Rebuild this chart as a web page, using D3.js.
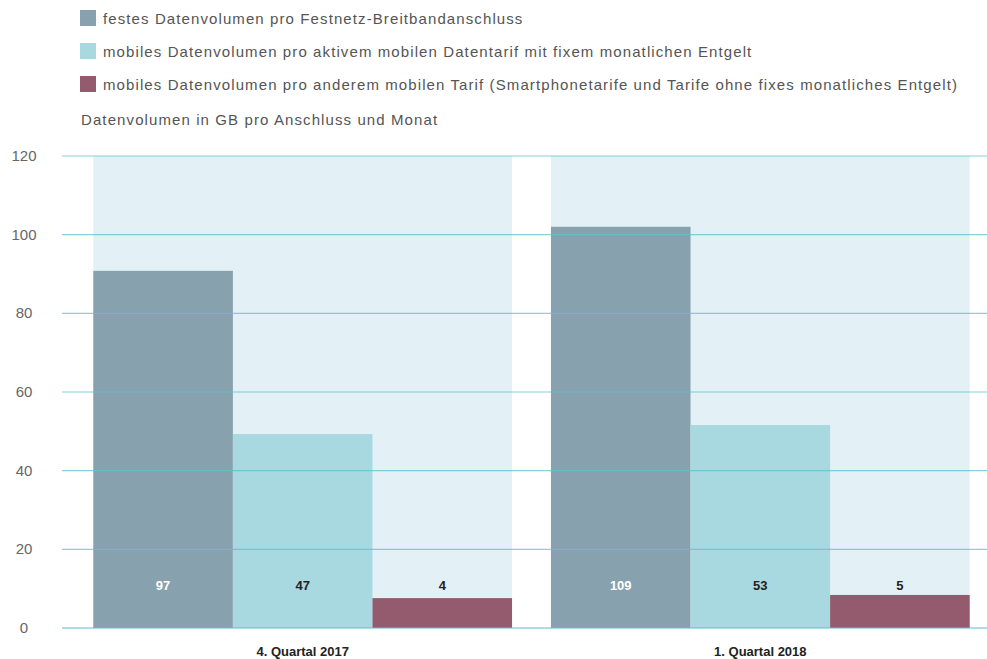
<!DOCTYPE html>
<html>
<head>
<meta charset="utf-8">
<script src="https://cdn.jsdelivr.net/npm/d3@7"></script>
<style>
  body { margin: 0; background: #fff; }
  svg { display: block; font-family: "Liberation Sans", Arial, sans-serif; }
</style>
</head>
<body>
<svg id="chart" width="987" height="659"></svg>
<script>
// data
const quarters = ["4. Quartal 2017", "1. Quartal 2018"];
const seriesNames = [
    "festes Datenvolumen pro Festnetz-Breitbandanschluss",
    "mobiles Datenvolumen pro aktivem mobilen Datentarif mit fixem monatlichen Entgelt",
    "mobiles Datenvolumen pro anderem mobilen Tarif (Smartphonetarife und Tarife ohne fixes monatliches Entgelt)"
];
// bar heights as drawn (the printed labels differ from the bar heights)
const barValues = [
    [90.8, 49.3, 7.6],
    [102, 51.6, 8.4]
];
const barLabels = [
    ["97", "47", "4"],
    ["109", "53", "5"]
];
const yTicks = [0, 20, 40, 60, 80, 100, 120];
const unitLabel = "Datenvolumen in GB pro Anschluss und Monat";

const colors = ["#87a2ae", "#a8d8e0", "#945a6e"];
const labelColors = ["#ffffff", "#222222", "#222222"];

const svg = d3.select("#chart");

const y = d3.scaleLinear().domain([0, 120]).range([628, 156]);
const x0 = d3.scaleBand().domain(quarters).range([75, 988]).paddingInner(0.085).paddingOuter(0.04);
const x1 = d3.scaleBand().domain(d3.range(seriesNames.length)).range([0, x0.bandwidth()]);

// legend
const legend = svg.append("g").selectAll("g")
    .data(seriesNames)
    .join("g")
    .attr("transform", (d, i) => `translate(80,${10 + i * 33})`);
legend.append("rect")
    .attr("width", 16).attr("height", 16)
    .attr("fill", (d, i) => colors[i]);
legend.append("text")
    .attr("x", 23).attr("y", 13.5)
    .attr("font-size", 15)
    .attr("letter-spacing", 1.1)
    .attr("fill", "#555")
    .text(d => d);

svg.append("text")
    .attr("x", 81).attr("y", 125)
    .attr("font-size", 15)
    .attr("letter-spacing", 1.1)
    .attr("fill", "#555")
    .text(unitLabel);

// group backgrounds
svg.append("g").selectAll("rect")
    .data(quarters)
    .join("rect")
    .attr("x", d => x0(d))
    .attr("width", x0.bandwidth())
    .attr("y", y(120))
    .attr("height", y(0) - y(120))
    .attr("fill", "#e3f0f5");

// bars
const groups = svg.append("g").selectAll("g")
    .data(quarters)
    .join("g")
    .attr("transform", d => `translate(${x0(d)},0)`);

groups.selectAll("rect")
    .data((d, gi) => barValues[gi].map((v, i) => ({v, i})))
    .join("rect")
    .attr("x", d => x1(d.i))
    .attr("width", x1.bandwidth())
    .attr("y", d => y(d.v))
    .attr("height", d => y(0) - y(d.v))
    .attr("fill", d => colors[d.i]);

// grid lines over the bars
svg.append("g").selectAll("line")
    .data(yTicks)
    .join("line")
    .attr("x1", 62).attr("x2", 987)
    .attr("y1", d => y(d)).attr("y2", d => y(d))
    .attr("stroke", d => d === 0 ? "#62bccb" : "#5fc0d0")
    .attr("stroke-opacity", d => d === 0 ? 1 : 0.75)
    .attr("stroke-width", 1.2);

// y tick labels
svg.append("g").selectAll("text")
    .data(yTicks)
    .join("text")
    .attr("x", 24)
    .attr("y", d => y(d) + 5)
    .attr("text-anchor", "middle")
    .attr("font-size", 15)
    .attr("fill", "#666")
    .text(d => d);

// value labels
groups.selectAll("text")
    .data((d, gi) => barLabels[gi].map((t, i) => ({t, i})))
    .join("text")
    .attr("x", d => x1(d.i) + x1.bandwidth() / 2)
    .attr("y", y(11) + 5)
    .attr("text-anchor", "middle")
    .attr("font-family", "'Liberation Sans Narrow', 'Liberation Sans', sans-serif")
    .attr("font-weight", "bold")
    .attr("font-size", 13)
    .attr("fill", d => labelColors[d.i])
    .text(d => d.t);

// category labels
svg.append("g").selectAll("text")
    .data(quarters)
    .join("text")
    .attr("x", d => x0(d) + x0.bandwidth() / 2)
    .attr("y", 656)
    .attr("text-anchor", "middle")
    .attr("font-family", "'Liberation Sans Narrow', 'Liberation Sans', sans-serif")
    .attr("font-weight", "bold")
    .attr("font-size", 13)
    .attr("fill", "#222")
    .text(d => d);
</script>
</body>
</html>
